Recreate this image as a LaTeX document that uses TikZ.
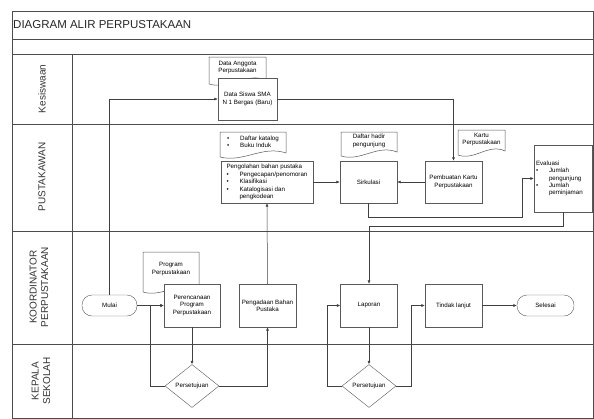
\documentclass[tikz,border=0pt]{standalone}
\usepackage{fontspec}
\setmainfont{Liberation Sans}
\usetikzlibrary{arrows.meta,shapes.geometric}
\newcommand{\kecil}{\fontsize{6.2}{7.4}\selectfont}
\newcommand{\butir}{\makebox[13pt][l]{\textbullet}}
\newcommand{\lanjut}{\hspace*{13pt}}
% document symbol: #1 node options, #2 name, #3 cx, #4 cy, #5 width, #6 height, #7 text
\newcommand{\dokumen}[7]{%
	\pgfmathsetmacro{\xa}{#3-#5/2}\pgfmathsetmacro{\xb}{#3+#5/2}%
	\pgfmathsetmacro{\ya}{#4-#6/2}\pgfmathsetmacro{\yb}{#4+#6/2}%
	\pgfmathsetmacro{\ca}{#3+0.15*#5}\pgfmathsetmacro{\cb}{#3-0.15*#5}%
	\draw[garisdok] (\xa,\ya) -- (\xb,\ya) -- (\xb,\yb-4) .. controls (\ca,\yb-12) and (\cb,\yb+6) .. (\xa,\yb) -- cycle;
	\node[teksdok, #1] (#2) at (#3,#4-3) {#7};}

\tikzset{
	kotak/.style={draw=black!65, fill=white, minimum width=57pt, minimum height=42pt, inner sep=1pt, align=center, font=\kecil},
	garisdok/.style={draw=black!65, fill=white, line width=0.5pt},
	teksdok/.style={inner sep=0pt, align=center, font=\kecil},
	terminal/.style={draw=black!65, fill=white, rounded corners=10pt, minimum width=55pt, minimum height=21pt, inner sep=1pt, font=\kecil},
	putusan/.style={diamond, draw=black!65, fill=white, minimum width=54pt, minimum height=43pt, inner sep=0pt, font=\kecil},
	alur/.style={draw=black!75, line width=0.5pt, -{Latex[length=3.5pt,width=3pt]}},
	batas/.style={draw=black!70, line width=0.6pt},
	lajur/.style={rotate=90, align=center, font=\fontsize{10}{11.5}\selectfont, text=black!80},
}

\begin{document}
\begin{tikzpicture}[x=1pt, y=-1pt]
	\useasboundingbox (0,0) rectangle (594,418);

	%frame and swimlanes
	\draw[batas] (12,11) rectangle (593,418);
	\draw[batas] (12,39) -- (593,39);
	\draw[batas] (12,54) -- (593,54);
	\draw[batas] (12,124) -- (593,124);
	\draw[batas] (12,231) -- (593,231);
	\draw[batas] (12,344) -- (593,344);
	\draw[batas] (72,54) -- (72,418);
	\node[anchor=west, font=\fontsize{11.5}{13}\selectfont, text=black!85, inner sep=0pt] (judul) at (13,25) {DIAGRAM ALIR PERPUSTAKAAN};
	\node[lajur] (lKesiswaan) at (42,89) {Kesiswaan};
	\node[lajur] (lPustakawan) at (42,177) {PUSTAKAWAN};
	\node[lajur] (lKoordinator) at (39,287) {KOORDINATOR\\PERPUSTAKAAN};
	\node[lajur] (lKepala) at (41,381) {KEPALA\\SEKOLAH};

	%kesiswaan
	\dokumen{}{dataAnggota}{237.5}{70.5}{57}{27}{Data Anggota\\Perpustakaan}
	\node[kotak, minimum width=59pt] (dataSiswa) at (247.5,99) {Data Siswa SMA\\N 1 Bergas (Baru)};

	%pustakawan
	\dokumen{align=left}{daftarKatalog}{253}{144.5}{66}{25}{\butir Daftar katalog\\\butir Buku Induk}
	\node[kotak, minimum width=92pt, align=left] (pengolahan) at (267,182) {Pengolahan bahan pustaka\\\butir Pengecapan/penomoran\\\butir Klasifikasi\\\butir Katalogisasi dan\\\lanjut pengkodean};
	\dokumen{}{daftarHadir}{369}{144}{56}{24}{Daftar hadir\\pengunjung}
	\node[kotak] (sirkulasi) at (368.5,182) {Sirkulasi};
	\dokumen{}{kartu}{481.5}{142.5}{47}{25}{Kartu\\Perpustakaan}
	\node[kotak] (pembuatan) at (453.5,182) {Pembuatan Kartu\\Perpustakaan};
	\node[kotak, minimum width=58pt, minimum height=67pt, text width=54pt, align=left] (evaluasi) at (563,178.5) {Evaluasi\\\butir Jumlah\\\lanjut pengunjung\\\butir Jumlah\\\lanjut peminjaman};

	%koordinator perpustakaan
	\node[terminal] (mulai) at (109.5,305.5) {Mulai};
	\dokumen{}{program}{171}{272}{56}{40}{Program\\Perpustakaan}
	\node[kotak, minimum width=56pt, minimum height=43pt] (perencanaan) at (192,305.5) {Perencanaan\\Program\\Perpustakaan};
	\node[kotak, minimum height=43pt] (pengadaan) at (267.5,305.5) {Pengadaan Bahan\\Pustaka};
	\node[kotak, minimum height=43pt] (laporan) at (369,305.5) {Laporan};
	\node[kotak, minimum height=43pt] (tindak) at (453.5,305.5) {Tindak lanjut};
	\node[terminal, minimum width=57pt] (selesai) at (545.5,305.5) {Selesai};

	%kepala sekolah
	\node[putusan] (setuju1) at (192,386) {Persetujuan};
	\node[putusan] (setuju2) at (369,386) {Persetujuan};

	%connectors
	\draw[alur] (mulai.east) -- (perencanaan.west);
	\draw[alur] (mulai.north) |- (dataSiswa.west);
	\draw[alur] (dataSiswa.east) -| (pembuatan.north);
	\draw[alur] (pembuatan.west) -- (sirkulasi.east);
	\draw[alur] (pengolahan.east) -- (sirkulasi.west);
	\draw[alur] (sirkulasi.south) |- (522,217) |- (evaluasi.west);
	\draw[alur] (evaluasi.south) -- ++(0,14) -| (laporan.north);
	\draw[alur] (perencanaan.south) -- (setuju1.north);
	\draw[alur] (setuju1.west) -- ++(-15,0) |- (perencanaan.west);
	\draw[alur] (setuju1.east) -| (pengadaan.south);
	\draw[alur] (pengadaan.north) -- (pengolahan.south);
	\draw[alur] (laporan.south) -- (setuju2.north);
	\draw[alur] (setuju2.west) -- ++(-15,0) |- (laporan.west);
	\draw[alur] (setuju2.east) -- ++(15,0) |- (tindak.west);
	\draw[alur] (tindak.east) -- (selesai.west);

\end{tikzpicture}
\end{document}
